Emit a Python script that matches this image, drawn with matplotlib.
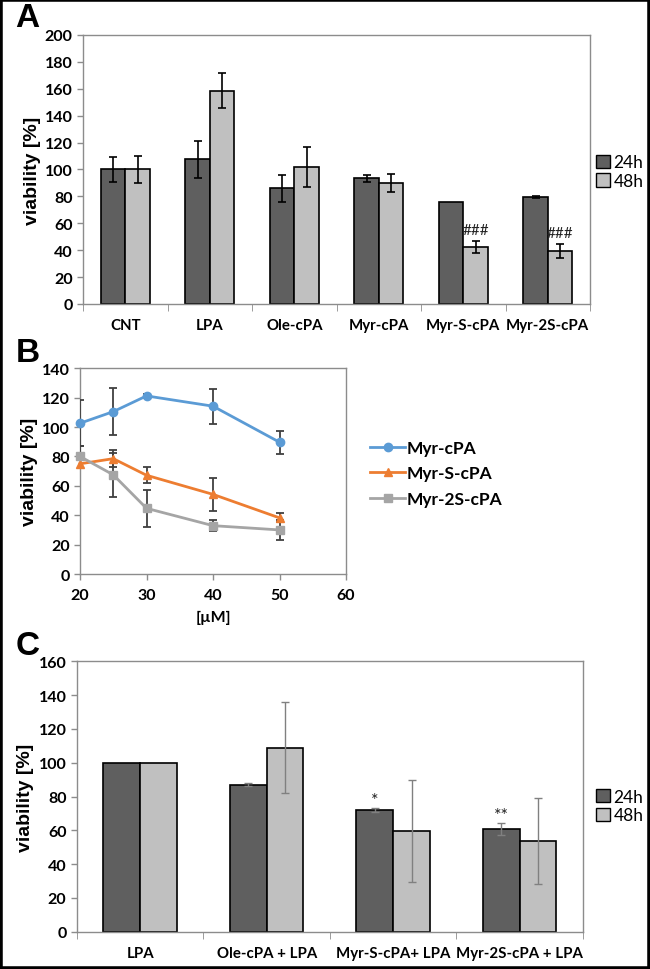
import numpy as np
import matplotlib.pyplot as plt
from matplotlib.patches import Patch, Rectangle
from matplotlib.lines import Line2D

plt.rcParams['font.family'] = ['Lato', 'DejaVu Sans']

# ---- panel A data ----
a_cats = ["CNT", "LPA", "Ole-cPA", "Myr-cPA", "Myr-S-cPA", "Myr-2S-cPA"]
a_24h = [100, 107.5, 86, 93.5, 75.5, 79.5]
a_24h_err = [9, 14, 10, 2.5, 0, 0.5]
a_48h = [100, 158.5, 101.8, 90, 42.4, 39.3]
a_48h_err = [10, 13, 15, 6.7, 4.2, 5.2]
a_marks = ["", "", "", "", "###", "###"]

# ---- panel B data ----
b_conc = [20, 25, 30, 40, 50]
b_myr = [102.6, 110.5, 121.2, 114.2, 89.7]
b_myr_err = [15.5, 16, 1.5, 12, 7.7]
b_myrs = [75, 78.5, 67.2, 54.2, 38.2]
b_myrs_err = [0, 6, 5.3, 11, 3]
b_myr2s = [80, 67.5, 44.7, 32.9, 30]
b_myr2s_err = [7, 15, 12.5, 3.7, 7]

# ---- panel C data ----
c_cats = ["LPA", "Ole-cPA + LPA", "Myr-S-cPA+ LPA", "Myr-2S-cPA + LPA"]
c_24h = [100, 87, 72, 60.7]
c_24h_err = [0, 1, 1.3, 3.5]
c_48h = [100, 109, 59.6, 53.5]
c_48h_err = [0, 26.7, 30, 25.4]
c_marks = ["", "", "*", "**"]

dark = "#5f5f5f"
light = "#c0c0c0"
frame = "#8c8c8c"
ylab_font = dict(fontsize=14, fontweight="bold", family="Liberation Sans")

fig = plt.figure(figsize=(6.5, 9.7), dpi=100)


def style_axes(ax):
    for s in ax.spines.values():
        s.set_color(frame)
        s.set_linewidth(1.0)
    ax.tick_params(axis="both", colors=frame, labelcolor="black",
                   labelsize=11.5, width=1.0, length=4)
    for lab in ax.get_yticklabels() + ax.get_xticklabels():
        lab.set_fontweight("bold")


def errbars(ax, xs, ys, es, col, lw):
    # skip points without an error value, so no empty caps are drawn
    keep = [i for i, e in enumerate(es) if e > 0]
    ax.errorbar([xs[i] for i in keep], [ys[i] for i in keep],
                yerr=[es[i] for i in keep], fmt="none", ecolor=col,
                elinewidth=lw, capsize=3, capthick=lw, zorder=3)


def bar_panel(ax, cats, v24, e24, v48, e48, ymax, step, errcol, errlw, marks, mark_off):
    x = np.arange(len(cats))
    w = 0.29
    ax.bar(x - w / 2, v24, w, color=dark, edgecolor="black", linewidth=1.2, zorder=2)
    ax.bar(x + w / 2, v48, w, color=light, edgecolor="black", linewidth=1.2, zorder=2)
    errbars(ax, x - w / 2, v24, e24, errcol, errlw)
    errbars(ax, x + w / 2, v48, e48, errcol, errlw)
    ax.set_xlim(-0.5, len(cats) - 0.5)
    ax.set_ylim(0, ymax)
    ax.set_yticks(np.arange(0, ymax + 1, step))
    ax.set_xticks(x)
    ax.set_xticklabels(cats)
    ax.set_xticks(np.arange(-0.5, len(cats), 1), minor=True)
    ax.set_ylabel("viability [%]", labelpad=3, **ylab_font)
    style_axes(ax)
    ax.tick_params(axis="x", which="major", length=0, pad=10, labelsize=10.8)
    ax.tick_params(axis="x", which="minor", length=5, color=frame)
    for i, m in enumerate(marks):
        if m:
            if m.startswith("#"):
                xi, yi = x[i] + w / 2, v48[i] + e48[i] + mark_off
                fs = 11
            else:
                xi, yi = x[i] - w / 2, v24[i] + e24[i] + mark_off
                fs = 13
            ax.text(xi, yi, m, ha="center", va="bottom", fontsize=fs, color="#222222")
    handles = [Patch(facecolor=dark, edgecolor="black", label="24h"),
               Patch(facecolor=light, edgecolor="black", label="48h")]
    return handles


# ---- A ----
axA = fig.add_axes([0.1277, 0.6856, 0.78, 0.2773])
hA = bar_panel(axA, a_cats, a_24h, a_24h_err, a_48h, a_48h_err, 200, 20,
               "black", 1.2, a_marks, 3)
fig.legend(handles=hA, loc="center left", bbox_to_anchor=(0.917, 0.822),
           frameon=False, fontsize=12.5, handlelength=0.8, handleheight=0.8,
           handletextpad=0.2, labelspacing=0.15, borderaxespad=0, borderpad=0)

# ---- B ----
axB = fig.add_axes([0.1231, 0.4072, 0.4092, 0.2121])
series = [(b_myr, b_myr_err, "#5b9bd5", "o", "Myr-cPA"),
          (b_myrs, b_myrs_err, "#ed7d31", "^", "Myr-S-cPA"),
          (b_myr2s, b_myr2s_err, "#a5a5a5", "s", "Myr-2S-cPA")]
hB = []
for vals, errs, col, mk, lab in series:
    errbars(axB, b_conc, vals, errs, "#404040", 1.3)
    axB.plot(b_conc, vals, color=col, marker=mk, markersize=6, linewidth=2,
             zorder=4, clip_on=False)
    hB.append(Line2D([], [], color=col, marker=mk, markersize=6, linewidth=2, label=lab))
axB.set_xlim(20, 60)
axB.set_ylim(0, 140)
axB.set_xticks(np.arange(20, 61, 10))
axB.set_yticks(np.arange(0, 141, 20))
axB.set_xlabel("[µM]", fontsize=11.5, fontweight="bold", labelpad=6)
axB.set_ylabel("viability [%]", labelpad=3, **ylab_font)
style_axes(axB)
axB.tick_params(axis="x", pad=6)
fig.legend(handles=hB, loc="center left", bbox_to_anchor=(0.57, 0.511),
           frameon=False, handlelength=2.0, handletextpad=0.1,
           labelspacing=0.55, borderaxespad=0, borderpad=0,
           prop={"weight": "bold", "size": 12.5})

# ---- C ----
axC = fig.add_axes([0.1182, 0.0384, 0.7787, 0.2788])
hC = bar_panel(axC, c_cats, c_24h, c_24h_err, c_48h, c_48h_err, 160, 20,
               "#808080", 1.0, c_marks, 0)
fig.legend(handles=hC, loc="center left", bbox_to_anchor=(0.917, 0.168),
           frameon=False, fontsize=12.5, handlelength=0.8, handleheight=0.8,
           handletextpad=0.2, labelspacing=0.15, borderaxespad=0, borderpad=0)

# panel letters
for lab, yy in [("A", 0.997), ("B", 0.652), ("C", 0.349)]:
    fig.text(0.024, yy, lab, fontsize=24, fontweight="bold",
             family="Liberation Sans", va="top")

# outer frame
fig.patches.append(Rectangle((0, 0), 1, 1, transform=fig.transFigure,
                             fill=False, edgecolor="black", linewidth=4))

fig.savefig("out.png", dpi=100)
